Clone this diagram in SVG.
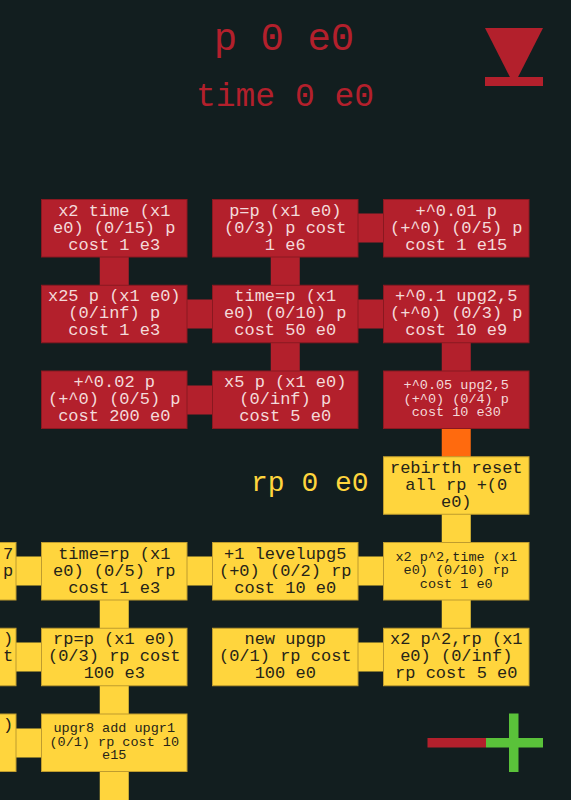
<svg xmlns="http://www.w3.org/2000/svg" width="571" height="800" viewBox="0 0 571 800">
<style>
.t{font-family:"Liberation Mono","Courier New",monospace;text-anchor:middle}
.rb{fill:#b3202c;stroke:#8a1820;stroke-width:1}
.yb{fill:#ffd53d;stroke:#bf9c2e;stroke-width:1}
.rt{fill:#f3dada;font-size:17px}
.yt{fill:#262418;font-size:17px}
.sm{font-size:13.5px}
.rc{stroke:#b3202c;stroke-width:29;fill:none}
.yc{stroke:#ffd53d;stroke-width:29;fill:none}
.oc{stroke:#ff6a0e;stroke-width:29;fill:none}
</style>
<rect x="0" y="0" width="571" height="800" fill="#121e1f"/>
<g id="header">
<text class="t" x="284" y="50" font-size="39" fill="#b3202c">p 0 e0</text>
<text class="t" x="285" y="106" font-size="33" fill="#b3202c">time 0 e0</text>
<text x="251" y="491" font-size="28" fill="#ffd53d" font-family="Liberation Mono, Courier New, monospace">rp 0 e0</text>
</g>
<g id="icon-top">
<polygon points="485,28 543,28 514,85" fill="#b3202c"/>
<rect x="485" y="77" width="58" height="9" fill="#b3202c"/>
</g>
<g id="icon-bottom">
<rect x="427.5" y="738" width="58.5" height="9.5" fill="#b3202c"/>
<rect x="486" y="738" width="57" height="9.5" fill="#5ac23a"/>
<rect x="509" y="713.5" width="9.5" height="58.5" fill="#5ac23a"/>
</g>
<g id="connectors">
<path class="rc" d="M114.25 228V314H285.25V228H456.25M285.25 314H456.25V400M285.25 314V400H114.25"/>
<path class="oc" d="M456.25 400V485"/>
<path class="yc" d="M456.25 485V657H285.25M456.25 571H-57M114.25 571V830M-57 657H114.25M-57 743H114.25"/>
</g>
<g id="n1"><rect class="rb" x="41.5" y="199.5" width="145.5" height="57.5"/>
<text class="t rt" y="215.5"><tspan x="114.25">x2 time (x1</tspan><tspan x="114.25" dy="17">e0) (0/15) p</tspan><tspan x="114.25" dy="17">cost 1 e3</tspan></text></g>
<g id="n2"><rect class="rb" x="212.5" y="199.5" width="145.5" height="57.5"/>
<text class="t rt" y="215.5"><tspan x="285.25">p=p (x1 e0)</tspan><tspan x="285.25" dy="17">(0/3) p cost</tspan><tspan x="285.25" dy="17">1 e6</tspan></text></g>
<g id="n3"><rect class="rb" x="383.5" y="199.5" width="145.5" height="57.5"/>
<text class="t rt" y="215.5"><tspan x="456.25">+^0.01 p</tspan><tspan x="456.25" dy="17">(+^0) (0/5) p</tspan><tspan x="456.25" dy="17">cost 1 e15</tspan></text></g>
<g id="n4"><rect class="rb" x="41.5" y="285.25" width="145.5" height="57.5"/>
<text class="t rt" y="301.25"><tspan x="114.25">x25 p (x1 e0)</tspan><tspan x="114.25" dy="17">(0/inf) p</tspan><tspan x="114.25" dy="17">cost 1 e3</tspan></text></g>
<g id="n5"><rect class="rb" x="212.5" y="285.25" width="145.5" height="57.5"/>
<text class="t rt" y="301.25"><tspan x="285.25">time=p (x1</tspan><tspan x="285.25" dy="17">e0) (0/10) p</tspan><tspan x="285.25" dy="17">cost 50 e0</tspan></text></g>
<g id="n6"><rect class="rb" x="383.5" y="285.25" width="145.5" height="57.5"/>
<text class="t rt" y="301.25"><tspan x="456.25">+^0.1 upg2,5</tspan><tspan x="456.25" dy="17">(+^0) (0/3) p</tspan><tspan x="456.25" dy="17">cost 10 e9</tspan></text></g>
<g id="n7"><rect class="rb" x="41.5" y="371" width="145.5" height="57.5"/>
<text class="t rt" y="387"><tspan x="114.25">+^0.02 p</tspan><tspan x="114.25" dy="17">(+^0) (0/5) p</tspan><tspan x="114.25" dy="17">cost 200 e0</tspan></text></g>
<g id="n8"><rect class="rb" x="212.5" y="371" width="145.5" height="57.5"/>
<text class="t rt" y="387"><tspan x="285.25">x5 p (x1 e0)</tspan><tspan x="285.25" dy="17">(0/inf) p</tspan><tspan x="285.25" dy="17">cost 5 e0</tspan></text></g>
<g id="n9"><rect class="rb" x="383.5" y="371" width="145.5" height="57.5"/>
<text class="t rt sm" y="389"><tspan x="456.25">+^0.05 upg2,5</tspan><tspan x="456.25" dy="13.5">(+^0) (0/4) p</tspan><tspan x="456.25" dy="13.5">cost 10 e30</tspan></text></g>
<g id="n10"><rect class="yb" x="383.5" y="456.75" width="145.5" height="57.5"/>
<text class="t yt" y="472.75"><tspan x="456.25">rebirth reset</tspan><tspan x="456.25" dy="17">all rp +(0</tspan><tspan x="456.25" dy="17">e0)</tspan></text></g>
<g id="n11"><rect class="yb" x="-129.5" y="542.5" width="145.5" height="57.5"/>
<text class="t yt" y="558.5"><tspan x="8">7</tspan><tspan x="8" dy="17">p</tspan></text></g>
<g id="n12"><rect class="yb" x="41.5" y="542.5" width="145.5" height="57.5"/>
<text class="t yt" y="558.5"><tspan x="114.25">time=rp (x1</tspan><tspan x="114.25" dy="17">e0) (0/5) rp</tspan><tspan x="114.25" dy="17">cost 1 e3</tspan></text></g>
<g id="n13"><rect class="yb" x="212.5" y="542.5" width="145.5" height="57.5"/>
<text class="t yt" y="558.5"><tspan x="285.25">+1 levelupg5</tspan><tspan x="285.25" dy="17">(+0) (0/2) rp</tspan><tspan x="285.25" dy="17">cost 10 e0</tspan></text></g>
<g id="n14"><rect class="yb" x="383.5" y="542.5" width="145.5" height="57.5"/>
<text class="t yt sm" y="560.5"><tspan x="456.25">x2 p^2,time (x1</tspan><tspan x="456.25" dy="13.5">e0) (0/10) rp</tspan><tspan x="456.25" dy="13.5">cost 1 e0</tspan></text></g>
<g id="n15"><rect class="yb" x="-129.5" y="628.25" width="145.5" height="57.5"/>
<text class="t yt" y="644.25"><tspan x="8">)</tspan><tspan x="8" dy="17">t</tspan></text></g>
<g id="n16"><rect class="yb" x="41.5" y="628.25" width="145.5" height="57.5"/>
<text class="t yt" y="644.25"><tspan x="114.25">rp=p (x1 e0)</tspan><tspan x="114.25" dy="17">(0/3) rp cost</tspan><tspan x="114.25" dy="17">100 e3</tspan></text></g>
<g id="n17"><rect class="yb" x="212.5" y="628.25" width="145.5" height="57.5"/>
<text class="t yt" y="644.25"><tspan x="285.25">new upgp</tspan><tspan x="285.25" dy="17">(0/1) rp cost</tspan><tspan x="285.25" dy="17">100 e0</tspan></text></g>
<g id="n18"><rect class="yb" x="383.5" y="628.25" width="145.5" height="57.5"/>
<text class="t yt" y="644.25"><tspan x="456.25">x2 p^2,rp (x1</tspan><tspan x="456.25" dy="17">e0) (0/inf)</tspan><tspan x="456.25" dy="17">rp cost 5 e0</tspan></text></g>
<g id="n19"><rect class="yb" x="-129.5" y="714" width="145.5" height="57.5"/>
<text class="t yt" x="8" y="730">)</text></g>
<g id="n20"><rect class="yb" x="41.5" y="714" width="145.5" height="57.5"/>
<text class="t yt sm" y="732"><tspan x="114.25">upgr8 add upgr1</tspan><tspan x="114.25" dy="13.5">(0/1) rp cost 10</tspan><tspan x="114.25" dy="13.5">e15</tspan></text></g>
</svg>
